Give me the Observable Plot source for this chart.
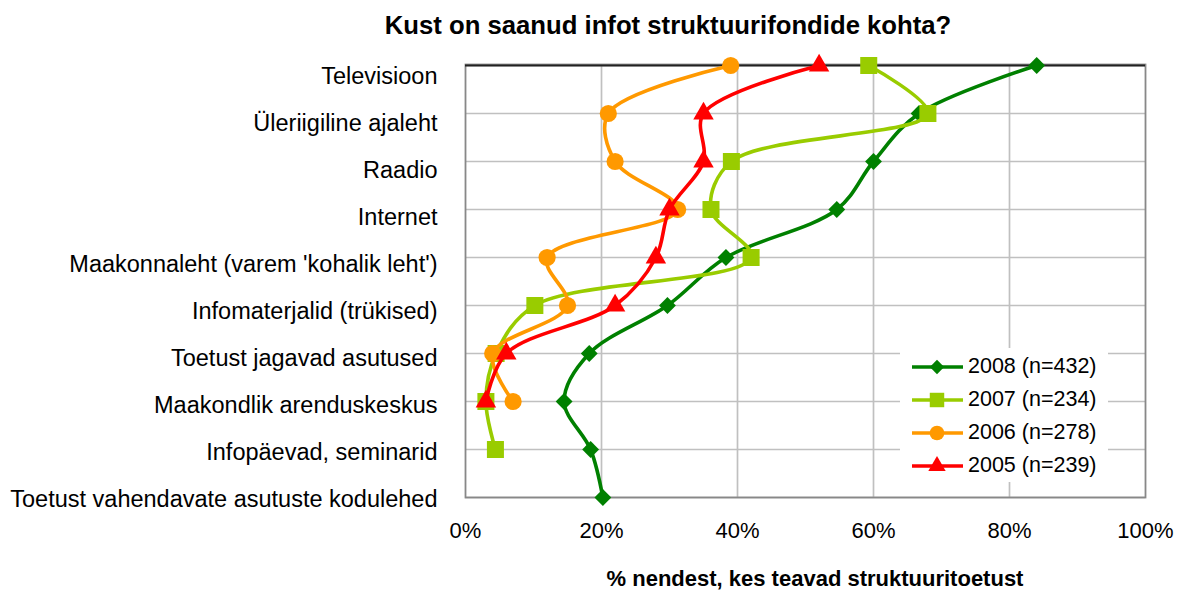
<!DOCTYPE html>
<html>
<head>
<meta charset="utf-8">
<script src="https://cdn.jsdelivr.net/npm/d3@7"></script>
<script src="https://cdn.jsdelivr.net/npm/@observablehq/plot@0.6"></script>
<style>
  html, body { margin: 0; padding: 0; background: #fff; }
  #wrap { position: relative; width: 1182px; height: 592px; font-family: "Liberation Sans", Arial, sans-serif; color: #000; overflow: hidden; }
  #wrap > * { position: absolute; }
  #title { left: 668px; top: 11px; transform: translateX(-50%); font-weight: bold; font-size: 25.7px; line-height: 28px; white-space: nowrap; }
  #xtitle { left: 815px; top: 566px; transform: translateX(-50%); font-weight: bold; font-size: 22px; line-height: 26px; white-space: nowrap; }
  #legend { left: 900px; top: 348px; width: 208px; height: 134px; background: #fff; }
  .row { position: absolute; left: 0; height: 33px; width: 208px; }
  .row svg { position: absolute; left: 10px; top: 6px; }
  .row span { position: absolute; left: 68px; top: 3px; font-size: 21.5px; line-height: 26px; white-space: nowrap; }
</style>
</head>
<body>
<div id="wrap"></div>
<script>
const categories = [
  "Televisioon",
  "Üleriigiline ajaleht",
  "Raadio",
  "Internet",
  "Maakonnaleht (varem 'kohalik leht')",
  "Infomaterjalid (trükised)",
  "Toetust jagavad asutused",
  "Maakondlik arenduskeskus",
  "Infopäevad, seminarid",
  "Toetust vahendavate asutuste kodulehed"
];
const seriesNames = ["2008 (n=432)", "2007 (n=234)", "2006 (n=278)", "2005 (n=239)"];
const values2008 = [84, 66.7, 60, 54.6, 38.3, 29.7, 18.2, 14.5, 18.4, 20.2];
const values2007 = [59.3, 68, 39.1, 36.1, 42, 10.2, 4.5, 3, 4.4, null];
const values2006 = [39, 21, 22, 31.2, 12, 15, 4, 7, null, null];
const values2005 = [52, 35, 35, 30, 28, 22, 6, 3, null, null];
const xTicks = [0, 20, 40, 60, 80, 100];

const colors = ["#008000", "#99cc00", "#ff9900", "#ff0000"];
const symbols = ["diamond2", "square", "circle", "triangle"];
const radii = [7.6, 9.6, 8.6, 7.6];
const allValues = [values2008, values2007, values2006, values2005];

const series = seriesNames.map((name, k) => ({
  name, color: colors[k], symbol: symbols[k], r: radii[k],
  rows: categories.map((c, i) => ({c, v: allValues[k][i]})).filter(d => d.v != null)
}));

const font = "'Liberation Sans', Arial, sans-serif";
const wrap = document.getElementById("wrap");

const marks = [
  Plot.gridX([20, 40, 60, 80], {stroke: "#c0c0c0", strokeOpacity: 1, strokeWidth: 1.7}),
  Plot.gridY({stroke: "#c0c0c0", strokeOpacity: 1, strokeWidth: 1.7}),
  Plot.frame({stroke: "#888", strokeWidth: 1.8}),
  Plot.ruleY([categories[0]], {stroke: "#222", strokeWidth: 2}),
  Plot.axisX(xTicks, {tickSize: 0, tickPadding: 25, fontSize: 22, tickFormat: d => d + "%", label: null})
];
for (const s of series) {
  marks.push(Plot.line(s.rows, {x: "v", y: "c", stroke: s.color, strokeWidth: 3.6, curve: "catmull-rom"}));
  marks.push(Plot.dot(s.rows, {x: "v", y: "c", symbol: s.symbol, r: s.r, fill: s.color, stroke: "none"}));
}

const main = Plot.plot({
  width: 1182, height: 592,
  marginLeft: 465, marginRight: 37, marginTop: 64, marginBottom: 95,
  x: {domain: [0, 100], label: null},
  y: {domain: categories, type: "point", padding: 0, axis: null},
  style: {fontFamily: font, fontSize: "22px", color: "#000", background: "#fff", overflow: "visible"},
  marks
});
main.style.left = "0px"; main.style.top = "0px";
wrap.appendChild(main);

const labels = Plot.plot({
  width: 441, height: 592,
  marginLeft: 440, marginRight: 1, marginTop: 75, marginBottom: 92,
  y: {domain: categories, type: "point", padding: 0, label: null},
  style: {fontFamily: font, fontSize: "23.5px", color: "#000", background: "transparent", overflow: "visible"},
  marks: [Plot.axisY({tickSize: 0, tickPadding: 3, fontSize: 23.5, label: null})]
});
labels.style.left = "0px"; labels.style.top = "0px";
wrap.appendChild(labels);

const title = document.createElement("div");
title.id = "title";
title.textContent = "Kust on saanud infot struktuurifondide kohta?";
wrap.appendChild(title);

const xt = document.createElement("div");
xt.id = "xtitle";
xt.textContent = "% nendest, kes teavad struktuuritoetust";
wrap.appendChild(xt);

const legend = document.createElement("div");
legend.id = "legend";
wrap.appendChild(legend);
const symMap = {diamond2: d3.symbolDiamond2, square: d3.symbolSquare, circle: d3.symbolCircle, triangle: d3.symbolTriangle};
series.forEach((s, i) => {
  const row = document.createElement("div");
  row.className = "row";
  row.style.top = (2 + i * 33) + "px";
  const svg = d3.create("svg").attr("width", 56).attr("height", 22);
  svg.append("line").attr("x1", 2).attr("x2", 53).attr("y1", 11).attr("y2", 11)
    .attr("stroke", s.color).attr("stroke-width", 3.6);
  const rr = s.r * 0.85;
  svg.append("path").attr("transform", "translate(27,11)")
    .attr("d", d3.symbol(symMap[s.symbol], Math.PI * rr * rr)())
    .attr("fill", s.color);
  row.appendChild(svg.node());
  const t = document.createElement("span");
  t.textContent = s.name;
  row.appendChild(t);
  legend.appendChild(row);
});
</script>
</body>
</html>
